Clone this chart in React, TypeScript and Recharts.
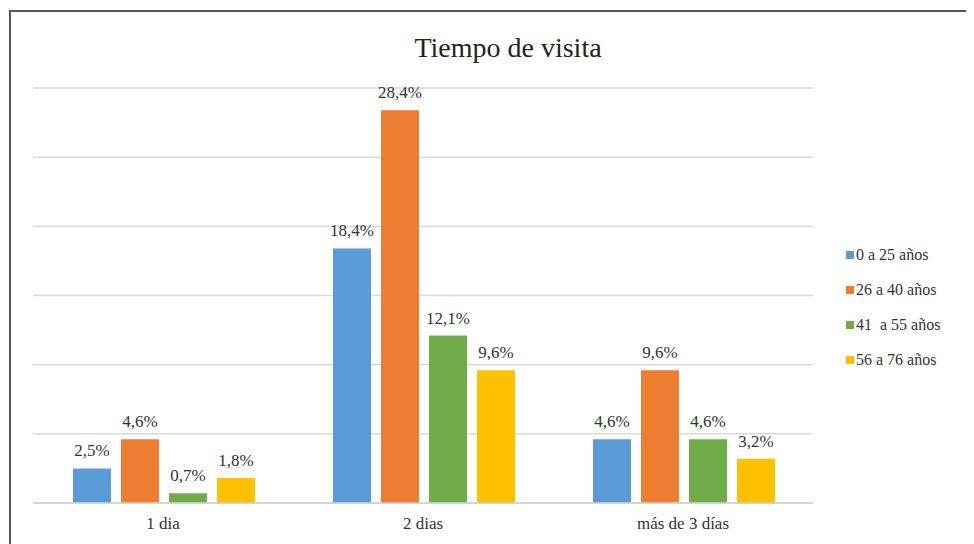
import { Bar, BarChart, CartesianGrid, LabelList, XAxis, YAxis } from 'recharts'

const CATEGORIES = ['1 dia', '2 dias', 'más de 3 días']
const SERIES = ['0 a 25 años', '26 a 40 años', '41  a 55 años', '56 a 76 años']
const AGE_0_25 = [2.5, 18.4, 4.6]
const AGE_26_40 = [4.6, 28.4, 9.6]
const AGE_41_55 = [0.7, 12.1, 4.6]
const AGE_56_76 = [1.8, 9.6, 3.2]
const Y_TICKS = [0, 5, 10, 15, 20, 25, 30]

const COLORS = ['#5B9BD5', '#ED7D31', '#70AD47', '#FFC000']
const FONT = "'Liberation Serif', 'DejaVu Serif', 'Times New Roman', Times, serif"

const data = CATEGORIES.map((name, i) => ({
  name,
  s0: AGE_0_25[i],
  s1: AGE_26_40[i],
  s2: AGE_41_55[i],
  s3: AGE_56_76[i],
}))

const fmt = (v: number) => `${v.toFixed(1).replace('.', ',')}%`

function LegendBox() {
  return (
    <ul
      style={{
        position: 'absolute',
        left: 838,
        top: 229,
        listStyle: 'none',
        margin: 0,
        padding: 0,
        fontFamily: FONT,
        fontSize: 16,
        color: '#333',
      }}
    >
      {SERIES.map((s, i) => (
        <li key={s} style={{ display: 'flex', alignItems: 'center', height: 35, whiteSpace: 'pre' }}>
          <span style={{ display: 'inline-block', width: 8, height: 8, background: COLORS[i], marginRight: 2 }} />
          {s}
        </li>
      ))}
    </ul>
  )
}

export default function App() {
  return (
    <div style={{ position: 'relative', width: 966, height: 536, overflow: 'hidden', background: '#fff' }}>
      <div
        style={{
          position: 'absolute',
          left: 1,
          top: 2,
          width: 990,
          height: 560,
          borderLeft: '2px solid #555',
          borderTop: '2px solid #555',
        }}
      />
      <div
        style={{
          position: 'absolute',
          left: 0,
          top: 24,
          width: 1000,
          textAlign: 'center',
          fontFamily: FONT,
          fontSize: 28,
          color: '#222',
        }}
      >
        Tiempo de visita
      </div>
      <div style={{ position: 'absolute', left: 0, top: 0 }}>
        <BarChart
          width={966}
          height={536}
          data={data}
          margin={{ top: 80, right: 161, bottom: 11, left: 25 }}
          barCategoryGap={40}
          barGap={10}
        >
          <CartesianGrid vertical={false} stroke="#d9d9d9" strokeWidth={1.5} />
          <YAxis hide domain={[0, 30]} ticks={Y_TICKS} />
          <XAxis
            dataKey="name"
            height={30}
            axisLine={{ stroke: '#d0d0d0', strokeWidth: 1.5 }}
            tickLine={false}
            tick={{ fontFamily: FONT, fontSize: 17, fill: '#333' }}
            tickMargin={8}
          />
          {['s0', 's1', 's2', 's3'].map((k, i) => (
            <Bar key={k} dataKey={k} name={SERIES[i]} fill={COLORS[i]} isAnimationActive={false}>
              <LabelList
                dataKey={k}
                position="top"
                offset={12}
                formatter={(v: number) => fmt(v)}
                fontFamily={FONT}
                fontSize={17}
                fill="#333"
              />
            </Bar>
          ))}
        </BarChart>
      </div>
      <LegendBox />
    </div>
  )
}
